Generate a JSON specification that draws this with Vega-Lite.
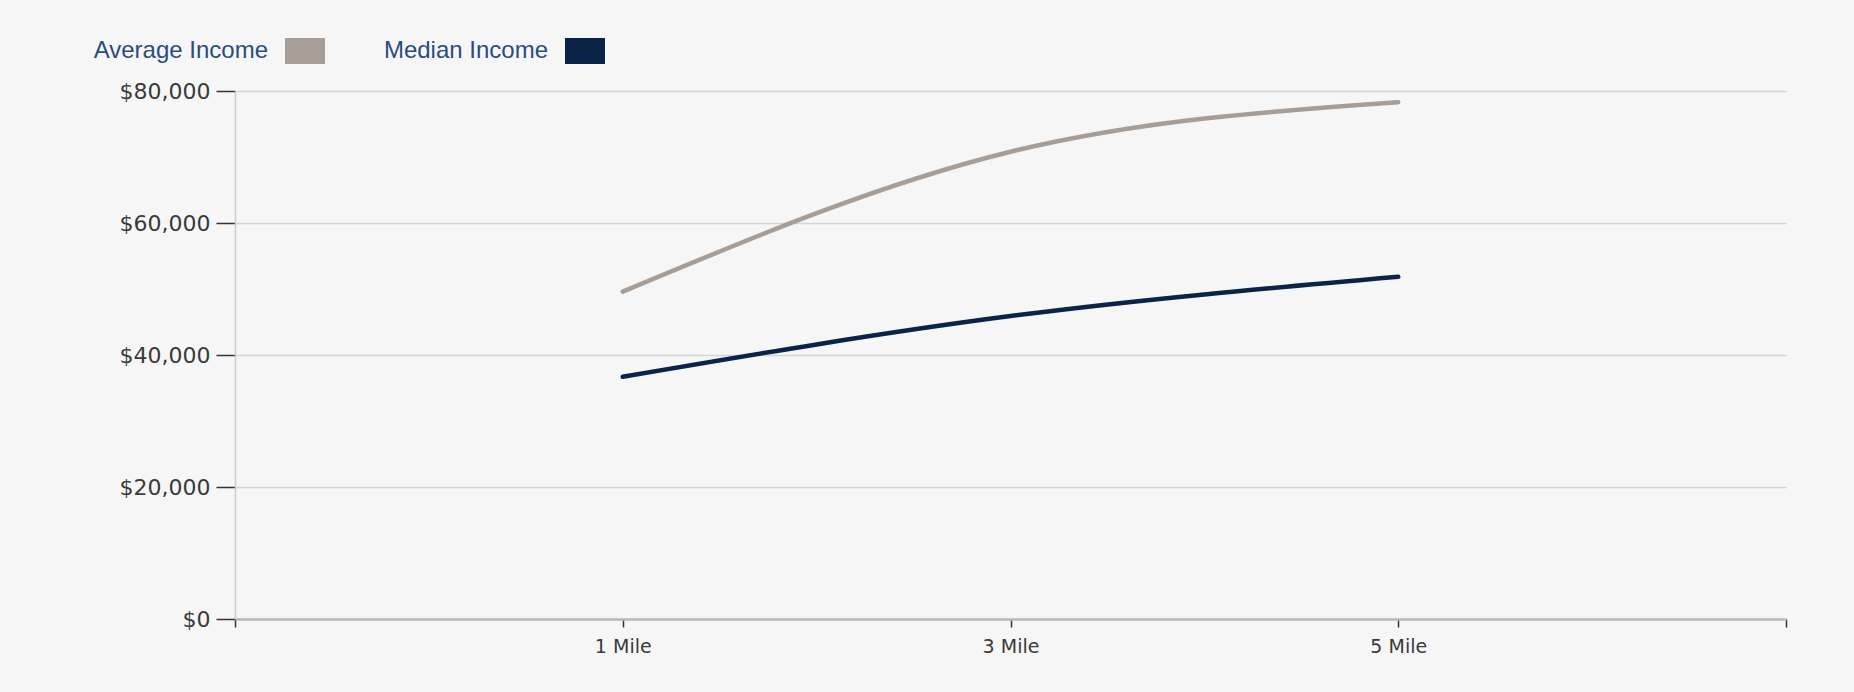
{
  "$schema": "https://vega.github.io/schema/vega-lite/v6.json",
  "width": 1551,
  "height": 528,
  "autosize": {"type": "none"},
  "padding": {"left": 235, "top": 91, "right": 68, "bottom": 73},
  "background": "#f6f6f6",
  "config": {
    "view": {"stroke": null},
    "axis": {"labelFont": "DejaVu Sans", "labelFontSize": 22, "labelColor": "#3a3a3a", "titleFontSize": 0}
  },
  "data": {
    "values": [
      {"miles": 1, "series": "Average Income", "income": 49600},
      {"miles": 3, "series": "Average Income", "income": 70800},
      {"miles": 5, "series": "Average Income", "income": 78300},
      {"miles": 1, "series": "Median Income", "income": 36700},
      {"miles": 3, "series": "Median Income", "income": 45900},
      {"miles": 5, "series": "Median Income", "income": 51850}
    ]
  },
  "mark": {"type": "line", "interpolate": "monotone", "strokeWidth": 4.5, "strokeCap": "round"},
  "encoding": {
    "x": {
      "field": "miles",
      "type": "quantitative",
      "scale": {"domain": [-1, 7], "nice": false, "zero": false},
      "axis": {
        "title": null,
        "values": [-1, 1, 3, 5, 7],
        "labelExpr": "datum.value >= 1 && datum.value <= 5 ? datum.value + ' Mile' : ''",
        "grid": false,
        "domainColor": "#b8b8b8",
        "domainWidth": 2.5,
        "tickColor": "#333333",
        "tickWidth": 1.5,
        "tickSize": 8,
        "labelPadding": 10,
        "labelFontSize": 19
      }
    },
    "y": {
      "field": "income",
      "type": "quantitative",
      "scale": {"domain": [0, 80000], "nice": false},
      "axis": {
        "title": null,
        "values": [0, 20000, 40000, 60000, 80000],
        "format": "$,.0f",
        "grid": true,
        "gridColor": "#d4d4d4",
        "gridWidth": 1.5,
        "domainColor": "#cccccc",
        "domainWidth": 1.5,
        "tickColor": "#333333",
        "tickWidth": 1.5,
        "tickSize": 19,
        "labelPadding": 6
      }
    },
    "color": {
      "field": "series",
      "type": "nominal",
      "scale": {"domain": ["Average Income", "Median Income"], "range": ["#a69d97", "#0a2346"]},
      "legend": {
        "title": null,
        "orient": "none",
        "direction": "horizontal",
        "legendX": 50,
        "legendY": -60,
        "symbolType": "M-1,-0.65H1V0.65H-1Z",
        "symbolSize": 1600,
        "symbolStrokeWidth": 0,
        "labelFont": "Liberation Sans",
        "labelFontSize": 24,
        "labelColor": "#2b4c7e",
        "labelAlign": "right",
        "labelOffset": -57,
        "labelLimit": 400,
        "columnPadding": 58,
        "encode": {
          "symbols": {"update": {"fill": {"field": "value", "scale": "color"}, "strokeWidth": {"value": 0}, "opacity": {"value": 1}}}
        }
      }
    }
  }
}
